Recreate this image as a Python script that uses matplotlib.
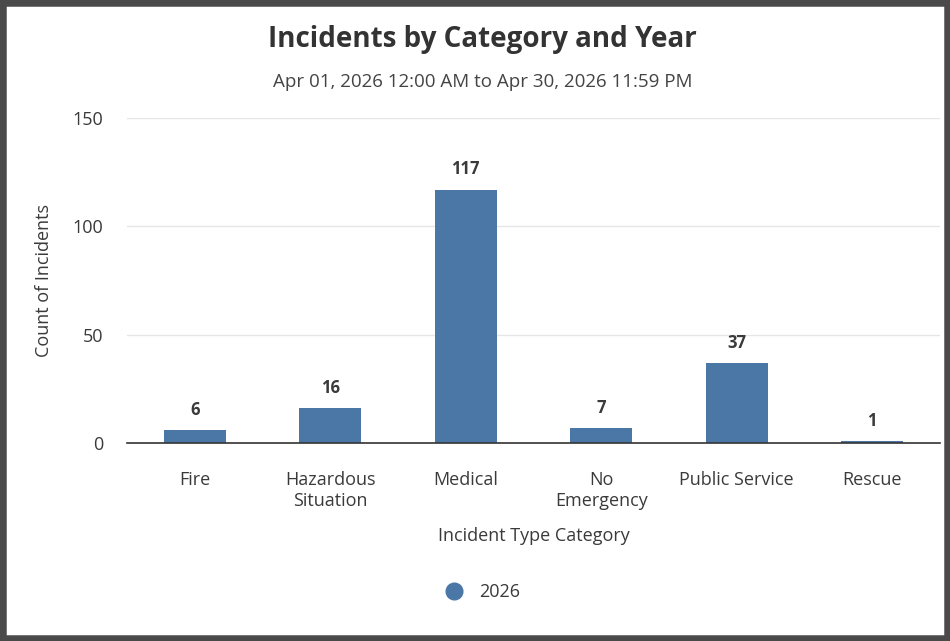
import matplotlib.pyplot as plt
from matplotlib.lines import Line2D
from matplotlib.patches import Rectangle

categories = ["Fire", "Hazardous\nSituation", "Medical", "No\nEmergency", "Public Service", "Rescue"]
counts = [6, 16, 117, 7, 37, 1]
year = "2026"
yticks = [0, 50, 100, 150]

bar_color = "#4a77a6"
text_color = "#3a3a3a"

plt.rcParams["font.family"] = ["Open Sans", "DejaVu Sans"]

fig = plt.figure(figsize=(9.5, 6.41), dpi=100)
fig.patch.set_facecolor("white")

# dark frame around the whole page
fig.add_artist(Rectangle((0, 0), 1, 1, transform=fig.transFigure, fill=False,
                         edgecolor="#4a4a4a", linewidth=9, zorder=10))

ax = fig.add_axes([0.1337, 0.3089, 0.8558, 0.507])
x = range(len(categories))
bars = ax.bar(x, counts, width=0.46, color=bar_color, zorder=3)

for b, v in zip(bars, counts):
    ax.annotate(str(v), (b.get_x() + b.get_width() / 2, v), xytext=(0, 8),
                textcoords="offset points", ha="center", va="bottom",
                fontsize=12, fontweight="bold", color=text_color)

ax.set_xlim(-0.5, len(categories) - 0.5)
ax.set_ylim(0, 150)
ax.set_yticks(yticks)
ax.set_xticks(list(x))
ax.set_xticklabels(categories, linespacing=1.25)
ax.tick_params(axis="both", length=0, labelsize=13, labelcolor=text_color)
ax.tick_params(axis="y", pad=17)
ax.tick_params(axis="x", pad=20)
ax.grid(axis="y", color="#e6e6e6", linewidth=1, zorder=0)
for s in ["top", "right", "left"]:
    ax.spines[s].set_visible(False)
ax.spines["bottom"].set_color("#333333")
ax.spines["bottom"].set_linewidth(1.2)
ax.spines["bottom"].set_zorder(4)

ax.set_ylabel("Count of Incidents", fontsize=13, color=text_color, labelpad=14)
ax.set_xlabel("Incident Type Category", fontsize=13, color=text_color, labelpad=12)

fig.text(0.508, 1 - 40 / 641, "Incidents by Category and Year", ha="center", va="center",
         fontsize=20, fontweight="bold", color="#333333")
fig.text(0.508, 1 - 82 / 641, "Apr 01, 2026 12:00 AM to Apr 30, 2026 11:59 PM",
         ha="center", va="center", fontsize=13.5, color="#444444")

handle = Line2D([], [], marker="o", linestyle="none", markersize=12,
                markerfacecolor=bar_color, markeredgecolor=bar_color)
fig.legend([handle], [year], loc="center", bbox_to_anchor=(0.503, 1 - 592 / 641),
           frameon=False, fontsize=13, handletextpad=0.4, labelcolor=text_color)

fig.savefig("out.png", dpi=100)
